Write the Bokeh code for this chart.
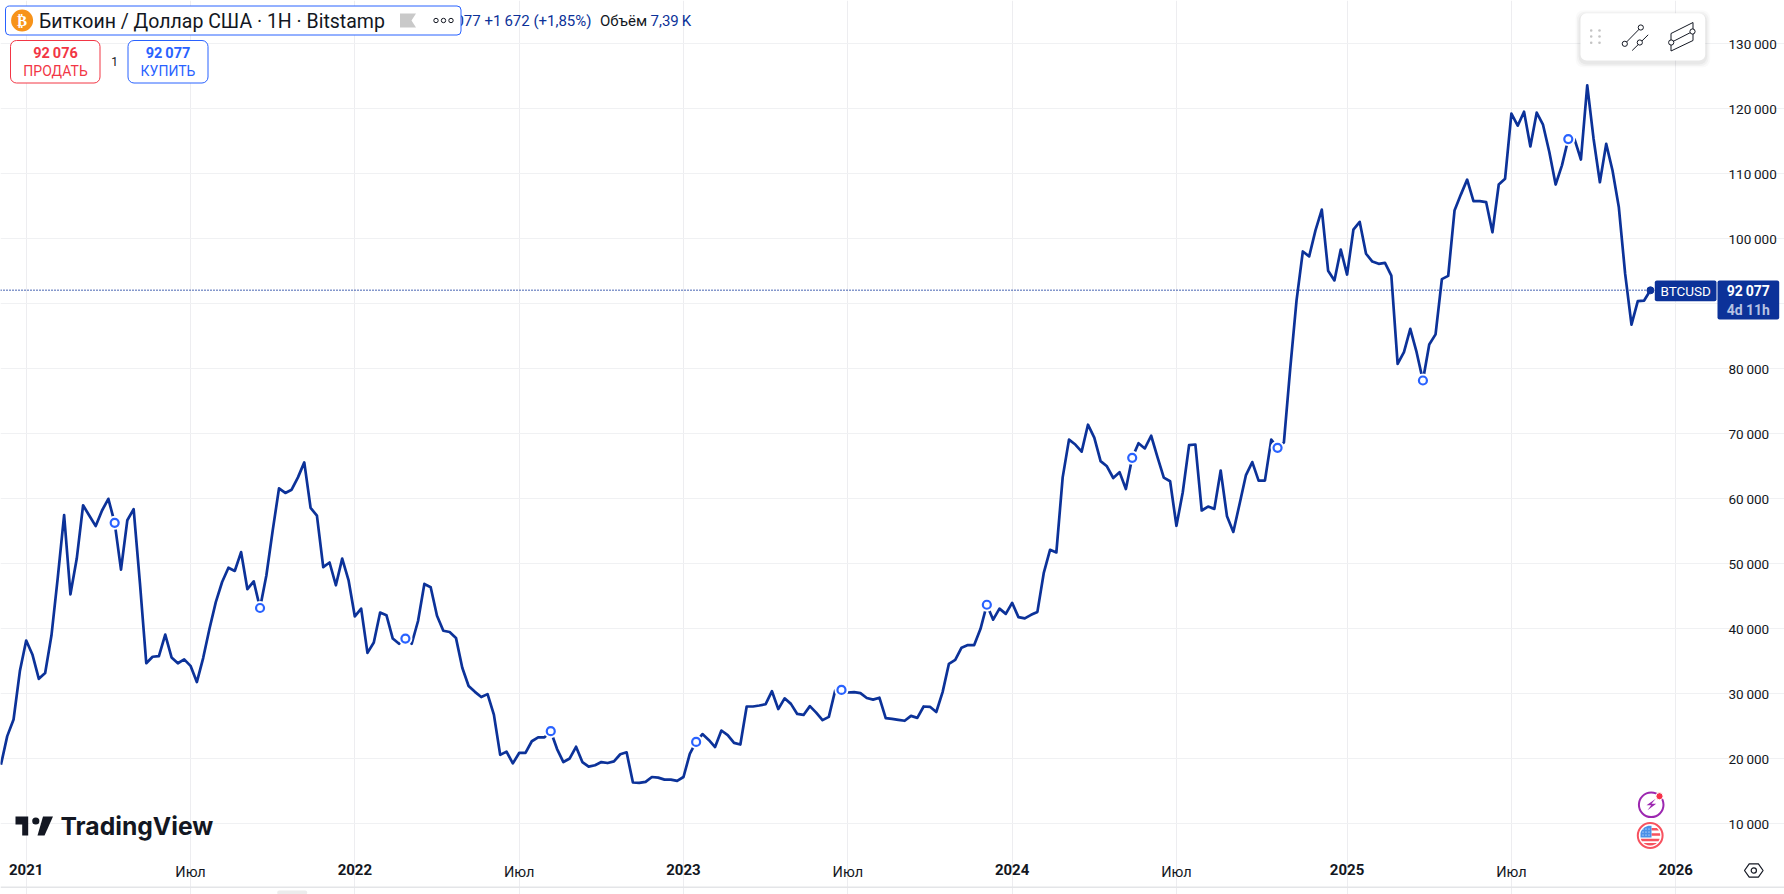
from bokeh.embed import file_html
from bokeh.resources import INLINE
from bokeh.plotting import figure
from bokeh.models import (Range1d, LinearAxis, FixedTicker, Label,
                          BoxAnnotation, PolyAnnotation, ColumnDataSource)
import math

close_2020 = [19080, 23490, 26050, 33500]
close_2021 = [38200, 36000, 32300, 33200, 39000, 47900, 57500, 45300, 50800, 59000, 57400, 55800, 58200,
              60000, 56300, 49100, 56700, 58400, 47000, 34700, 35700, 35800, 39100, 35600, 34700, 35300,
              34300, 31800, 35500, 40000, 44100, 47200, 49400, 48900, 51800, 46100, 47300, 43200, 48200,
              55100, 61600, 60900, 61400, 63300, 65600, 58600, 57400, 49500, 50200, 46700, 50800, 47500]
close_2022 = [41900, 43100, 36300, 37900, 42500, 42100, 38500, 37700, 38500, 37700, 41200, 46900, 46400,
              42000, 39700, 39500, 38600, 34000, 31200, 30300, 29500, 29950, 26800, 20600, 21100, 19300,
              20900, 20900, 22700, 23300, 23300, 24250, 21500, 19500, 20050, 21850, 19500, 18800, 19000,
              19500, 19350, 19600, 20700, 21000, 16350, 16300, 16450, 17200, 17100, 16800, 16800, 16600]
close_2023 = [17200, 20750, 22600, 23800, 22900, 21800, 24350, 23650, 22450, 22200, 28050, 28050, 28200,
              28400, 30400, 27650, 29300, 28450, 26900, 26750, 28100, 27100, 25950, 26450, 30500, 30600,
              30200, 30250, 30100, 29350, 29100, 29400, 26250, 26150, 26000, 25850, 26600, 26300, 28050,
              28000, 27200, 30260, 34620, 35230, 37100, 37500, 37500, 40000, 43700, 41400, 43100, 42300]
close_2024 = [44000, 41800, 41600, 42150, 42600, 48550, 52150, 51750, 63300, 69100, 68350, 67250, 71400,
              69400, 65800, 65000, 63200, 64100, 61500, 66300, 68550, 67750, 69700, 66400, 63250, 62700,
              55850, 61000, 68250, 68350, 58200, 58800, 58450, 64350, 57300, 54900, 59250, 63650, 65650,
              62800, 62800, 69100, 67850, 68650, 80000, 90500, 98050, 97300, 101300, 104500, 95100, 93600,
              98350]
close_2025 = [94500, 101400, 102600, 97700, 96500, 96150, 96300, 94350, 80750, 82550, 86150, 82550, 78200,
              83750, 85300, 93800, 94300, 104350, 106800, 109100, 105800, 105800, 105650, 101000, 108350,
              109250, 119250, 117400, 119550, 114200, 119400, 117550, 113350, 108350, 111300, 115350,
              115300, 112200, 123600, 115400, 108700, 114600, 110500, 104850, 94600, 86800, 90400, 90500,
              92077]
close = close_2020 + close_2021 + close_2022 + close_2023 + close_2024 + close_2025
weeks = [i - len(close_2020) for i in range(len(close))]

marker_weeks = [14, 37, 60, 83, 106, 129, 152, 175, 198, 221, 244]

year_ticks = [0, 52, 104, 156, 209, 261]
year_labels = ["2021", "2022", "2023", "2024", "2025", "2026"]
month_ticks = [26, 78, 130, 182, 235]
month_labels = ["Июл", "Июл", "Июл", "Июл", "Июл"]
price_ticks = [10000, 20000, 30000, 40000, 50000, 60000, 70000, 80000, 90000, 100000, 110000, 120000, 130000]
price_labels = ["10\u2009000", "20\u2009000", "30\u2009000", "40\u2009000", "50\u2009000", "60\u2009000", "70\u2009000",
                "80\u2009000", "90\u2009000", "100\u2009000", "110\u2009000", "120\u2009000", "130\u2009000"]

LINE = "#0c3299"
BLUE = "#2962ff"
RED = "#f23645"
INK = "#131722"
GRID = "#f0f1f3"
FONT = "Roboto"

W, H = 1784, 894
PLOT_R, PLOT_B = 1716, 852            # right and bottom edge of the price pane, px
XPX = 6.32                            # px per week
YPX = 65 / 10000                      # px per dollar
X0 = -25.7 / XPX
Y0 = 10000 + 823.3 / YPX


def week_at(px):
    return X0 + px / XPX


def price_at(py):
    return Y0 - py / YPX


p = figure(width=W, height=H, output_backend="svg", toolbar_location=None,
           x_range=Range1d(week_at(0), week_at(W)), y_range=Range1d(price_at(H), price_at(0)),
           x_axis_location="below", y_axis_location="right",
           min_border_left=0, min_border_top=0, min_border_right=0, min_border_bottom=0,
           outline_line_color=None, background_fill_color="white", border_fill_color="white")
p.xgrid[0].ticker = FixedTicker(ticks=year_ticks + month_ticks)
p.xgrid[0].grid_line_color = "#ededf0"
p.xgrid[0].bounds = (price_at(PLOT_B), price_at(0))
p.ygrid[0].ticker = FixedTicker(ticks=price_ticks)
p.ygrid[0].grid_line_color = GRID
p.ygrid[0].bounds = (week_at(0), week_at(PLOT_R))


def style_axis(ax, size, bold=False):
    ax.axis_line_color = None
    ax.major_tick_line_color = None
    ax.minor_tick_line_color = None
    ax.major_tick_in = 0
    ax.major_tick_out = 0
    ax.minor_tick_in = 0
    ax.minor_tick_out = 0
    ax.major_label_text_font = FONT
    ax.major_label_text_font_size = size
    ax.major_label_text_color = INK
    ax.major_label_text_font_style = "bold" if bold else "normal"


ax_y = p.yaxis[0]
ax_y.ticker = FixedTicker(ticks=price_ticks)
ax_y.major_label_overrides = dict(zip(price_ticks, price_labels))
ax_y.major_label_standoff = 12
ax_y.fixed_location = week_at(PLOT_R)
style_axis(ax_y, "13.5px")

ax_x = p.xaxis[0]
ax_x.ticker = FixedTicker(ticks=year_ticks)
ax_x.major_label_overrides = dict(zip(year_ticks, year_labels))
ax_x.major_label_standoff = 11
ax_x.fixed_location = price_at(PLOT_B)
style_axis(ax_x, "15px", bold=True)

ax_m = LinearAxis(ticker=FixedTicker(ticks=month_ticks),
                  major_label_overrides=dict(zip(month_ticks, month_labels)),
                  major_label_standoff=11, fixed_location=price_at(PLOT_B))
style_axis(ax_m, "14.5px")
p.add_layout(ax_m, "below")

p.line([week_at(0), weeks[-1]], [close[-1], close[-1]], line_color=LINE, line_width=1.4, line_dash=[1, 2])

src = ColumnDataSource(dict(x=weeks, y=close))
p.line("x", "y", source=src, line_color=LINE, line_width=2.7, line_join="round")
mk_y = [close[weeks.index(w)] for w in marker_weeks]
p.scatter(marker_weeks, mk_y, size=14, marker="circle", fill_color="white", line_color=None)
p.scatter(marker_weeks, mk_y, size=8, marker="circle", fill_color="white", line_color=BLUE, line_width=2.2)
p.scatter(weeks[-1:], close[-1:], size=7, marker="circle", fill_color=LINE, line_color=LINE)


def box(l, r, t, b, fill="white", line=None, lw=1, rad=0, alpha=1.0):
    p.add_layout(BoxAnnotation(left=l, right=r, top=t, bottom=b,
                               left_units="canvas", right_units="canvas",
                               top_units="canvas", bottom_units="canvas",
                               fill_color=fill, fill_alpha=alpha, line_color=line, line_width=lw,
                               line_alpha=1 if line else 0, border_radius=int(math.ceil(rad))))


def circle(cx, cy, r, fill="white", line=None, lw=1):
    box(cx - r, cx + r, cy - r, cy + r, fill, line, lw, rad=r)


def poly(pts, fill=None, line=None, lw=1):
    p.add_layout(PolyAnnotation(xs=[q[0] for q in pts], ys=[q[1] for q in pts],
                                xs_units="canvas", ys_units="canvas",
                                fill_color=fill or "white", fill_alpha=1 if fill else 0,
                                line_color=line or "white", line_alpha=1 if line else 0, line_width=lw))


def txt(x, y, text, size=14, color=INK, bold=False, align="left", font=FONT):
    p.add_layout(Label(x=x, y=y, x_units="canvas", y_units="canvas", text=text,
                       text_font=font, text_font_size=f"{size}px", text_color=color,
                       text_font_style="bold" if bold else "normal",
                       text_align=align, text_baseline="middle"))


# legend line
txt(591, 20.5, "92\u2009077 +1\u2009672 (+1,85%)", 15, LINE, align="right")
txt(599.5, 20.5, "Объём", 15, INK)
txt(650, 20.5, "7,39\u2009K", 15, LINE)
box(5, 460.5, 5.5, 34.5, "white", BLUE, 1, 4)
circle(21.6, 20, 11, "#f7931a")
txt(21.6, 20.5, "₿", 15, "white", True, "center", "DejaVu Sans")
txt(38.5, 20.5, "Биткоин / Доллар США · 1Н · Bitstamp", 19.5, INK)
poly([(399.5, 13), (415.5, 13), (411, 20), (415.5, 27), (399.5, 27)], fill="#c9c9c9")
for cx in (435.5, 443, 450.5):
    circle(cx, 20, 2.2, "white", INK, 1)

# trade buttons
box(10, 99.5, 40, 82.5, "white", RED, 1, 6)
txt(55, 52.5, "92\u2009076", 14.5, RED, True, "center")
txt(55, 70.5, "ПРОДАТЬ", 14, RED, False, "center")
txt(114, 61, "1", 12, INK, False, "center")
box(127.5, 207.5, 40, 82.5, "white", BLUE, 1, 6)
txt(167.5, 52.5, "92\u2009077", 14.5, BLUE, True, "center")
txt(167.5, 70.5, "КУПИТЬ", 14, BLUE, False, "center")

# floating toolbar
for grow, a in ((5, 0.02), (3.5, 0.03), (2, 0.04)):
    box(1580 - grow, 1704.7 + grow, 12.7 - grow + 2, 60 + grow + 2, "#000000", None, 1, 8, a)
box(1580, 1704.7, 12.7, 60, "white", None, 1, 6)
for dx in (1590.7, 1599):
    for dy in (30, 36, 42.3):
        circle(dx, dy, 1.3, "#c4c4c4")
poly([(1624.3, 43.3), (1640.3, 27)], line=INK)
poly([(1631.7, 50), (1647.7, 34.3)], line=INK)
for cx, cy in ((1624.3, 43.3), (1640.3, 27), (1639.3, 42)):
    circle(cx, cy, 2.6, "white", INK, 1)
poly([(1670.5, 33), (1692.5, 22), (1692.5, 40), (1670.5, 50.5)], line=INK)
poly([(1670.5, 42), (1692, 31)], line=INK)
for cx, cy in ((1670.7, 42), (1692, 31)):
    circle(cx, cy, 2.6, "white", INK, 1)

# last-price tags
box(1654.3, 1716, 280, 300.7, LINE, None, 1, 2)
txt(1685.2, 290.5, "BTCUSD", 13.5, "white", False, "center")
box(1717, 1778.7, 280, 319, LINE, None, 1, 2)
txt(1747.8, 290.5, "92\u2009077", 14, "white", True, "center")
txt(1747.8, 309, "4d 11h", 14, "#b6c2e3", True, "center")

# event badges
circle(1650.7, 804.3, 12.3, "white", "#9c27b0", 2)
poly([(x, 804.3 + y) for x, y in [(1655.2, -6), (1646, 0.5), (1650.7, 0.5), (1647, 5.5), (1655.7, -1), (1651, -1)]],
     fill="#9c27b0")
circle(1659, 795.7, 3.6, "#f7304a", "white", 1)
circle(1649.7, 835, 12.4, "white", "#f7525f", 2)


def band(y0, y1, x0, x1, fill, cx=1649.7, cy=835, r=10):
    left, right = [], []
    for i in range(9):
        y = y0 + (y1 - y0) * i / 8
        half = math.sqrt(max(r * r - (y - cy) ** 2, 0))
        left.append((max(x0, cx - half), y))
        right.append((min(x1, cx + half), y))
    poly(left + right[::-1], fill=fill)


band(827.5, 830, 1651, 1660, "#f7525f")
band(832.8, 835.3, 1651, 1660, "#f7525f")
band(838.3, 840.8, 1640, 1660, "#f7525f")
band(842.4, 845, 1640, 1660, "#f7525f")
band(825.2, 837, 1640, 1651, "#4a90e8")
for bx in (1642.5, 1645.5, 1648.5):
    for by in (828.5, 831.5, 834.5):
        circle(bx, by, 0.6, "white")

# watermark
poly([(15, 816), (27.7, 816), (27.7, 835), (21.7, 835), (21.7, 824), (15, 824)], fill=INK)
circle(35.3, 820.5, 3.6, INK)
poly([(42.5, 816), (52.5, 816), (44, 835), (37, 835)], fill=INK)
txt(60, 825.5, "TradingView", 24.7, INK, True, "left", "Inter")

# footer chrome
box(0, W, 886, 887.4, "#e4e5e8", None)
box(276.7, 306.7, 890, 894, "#ececec", None, 1, 2)
hx, hy = 1753.3, 870
poly([(hx - 9.3, hy), (hx - 4.6, hy - 6.6), (hx + 4.6, hy - 6.6), (hx + 9.3, hy),
      (hx + 4.6, hy + 6.6), (hx - 4.6, hy + 6.6), (hx - 9.3, hy)], line=INK, lw=1.2)
circle(hx, hy, 2.6, "white", INK, 1.2)

open("out.html", "w").write(file_html(p, INLINE))
